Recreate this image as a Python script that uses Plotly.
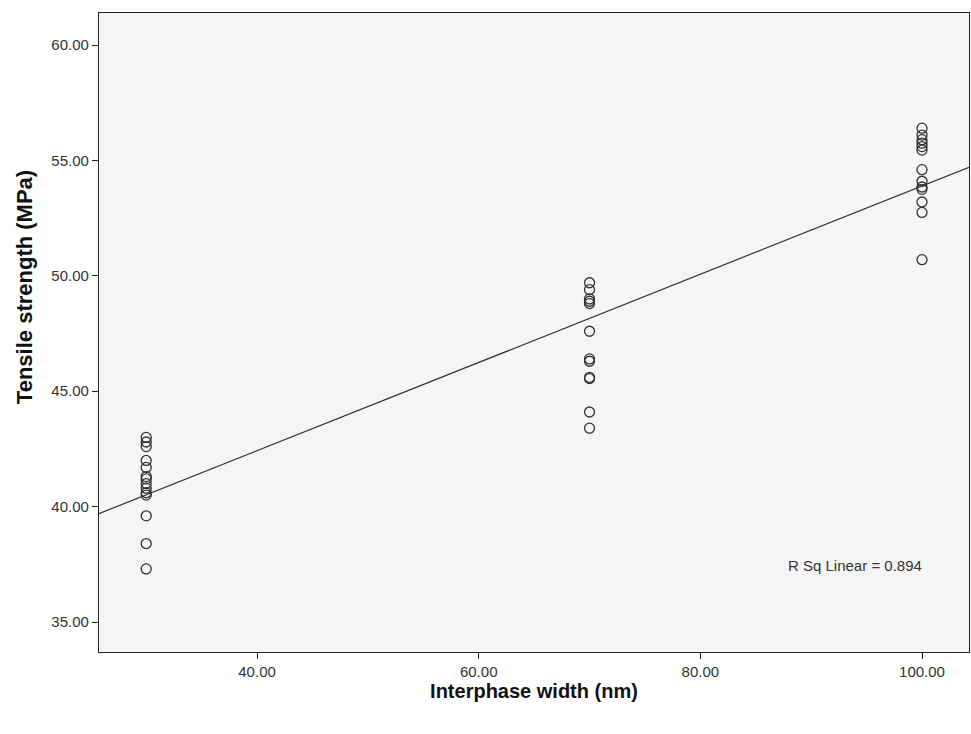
import numpy as np
import plotly.graph_objects as go

# Interphase width groups (nm) and measured tensile strength (MPa)
width_30 = [43.0, 42.8, 42.6, 42.0, 41.7, 41.3, 41.2, 41.0, 40.8, 40.6, 40.5, 39.6, 38.4, 37.3]
width_70 = [49.7, 49.4, 49.0, 48.9, 48.8, 47.6, 46.4, 46.3, 45.6, 45.55, 44.1, 43.4]
width_100 = [56.4, 56.1, 55.9, 55.75, 55.6, 55.45, 54.6, 54.1, 53.85, 53.75, 53.2, 52.75, 50.7]

group_x = [30.0, 70.0, 100.0]
groups = [width_30, width_70, width_100]

x_vals = np.concatenate([[gx] * len(g) for gx, g in zip(group_x, groups)])
y_vals = np.concatenate(groups)

x_range = [25.74, 104.24]
y_range = [33.7, 61.39]

# Least-squares linear fit across all observations
slope, intercept = np.polyfit(x_vals, y_vals, 1)
fit_x = np.array(x_range)
fit_y = slope * fit_x + intercept

fig = go.Figure()
fig.add_trace(go.Scatter(
    x=fit_x, y=fit_y, mode="lines",
    line=dict(color="#333333", width=1.2),
    hoverinfo="skip", showlegend=False,
))
fig.add_trace(go.Scatter(
    x=x_vals, y=y_vals, mode="markers",
    marker=dict(symbol="circle-open", size=10, color="#333333",
                line=dict(color="#333333", width=1.3)),
    showlegend=False,
))

axis_font = dict(family="Liberation Sans, Arial, sans-serif", size=15, color="#333333")
xtitle_font = dict(family="Liberation Sans, Arial, sans-serif", size=20, color="#111111")
ytitle_font = dict(family="Liberation Sans, Arial, sans-serif", size=22, color="#111111")

fig.update_layout(
    width=971, height=734,
    margin=dict(l=99, r=2, t=13, b=82),
    paper_bgcolor="white",
    plot_bgcolor="#f5f5f5",
    xaxis=dict(
        range=x_range, tickvals=[40, 60, 80, 100],
        ticktext=["40.00", "60.00", "80.00", "100.00"],
        ticks="outside", ticklen=6, tickcolor="#222222", tickwidth=1.3,
        showgrid=False, zeroline=False,
        showline=True, linecolor="#222222", linewidth=1.3, mirror=True,
        tickfont=axis_font,
        title=dict(text="<b>Interphase width (nm)</b>", font=xtitle_font, standoff=4),
    ),
    yaxis=dict(
        range=y_range, tickvals=[35, 40, 45, 50, 55, 60],
        ticktext=["35.00", "40.00", "45.00", "50.00", "55.00", "60.00"],
        ticks="outside", ticklen=6, tickcolor="#222222", tickwidth=1.3,
        showgrid=False, zeroline=False,
        showline=True, linecolor="#222222", linewidth=1.3, mirror=True,
        tickfont=axis_font,
    ),
    annotations=[
        dict(
            text="R Sq Linear = 0.894", xref="paper", yref="paper",
            x=0.869, y=0.136, xanchor="center", yanchor="middle",
            showarrow=False, font=axis_font,
        ),
        dict(
            text="<b>Tensile strength (MPa)</b>", xref="paper", yref="paper",
            x=-0.0862, y=0.571, xanchor="center", yanchor="middle",
            textangle=-90, showarrow=False, font=ytitle_font,
        ),
    ],
)

fig.write_html("out.html")
